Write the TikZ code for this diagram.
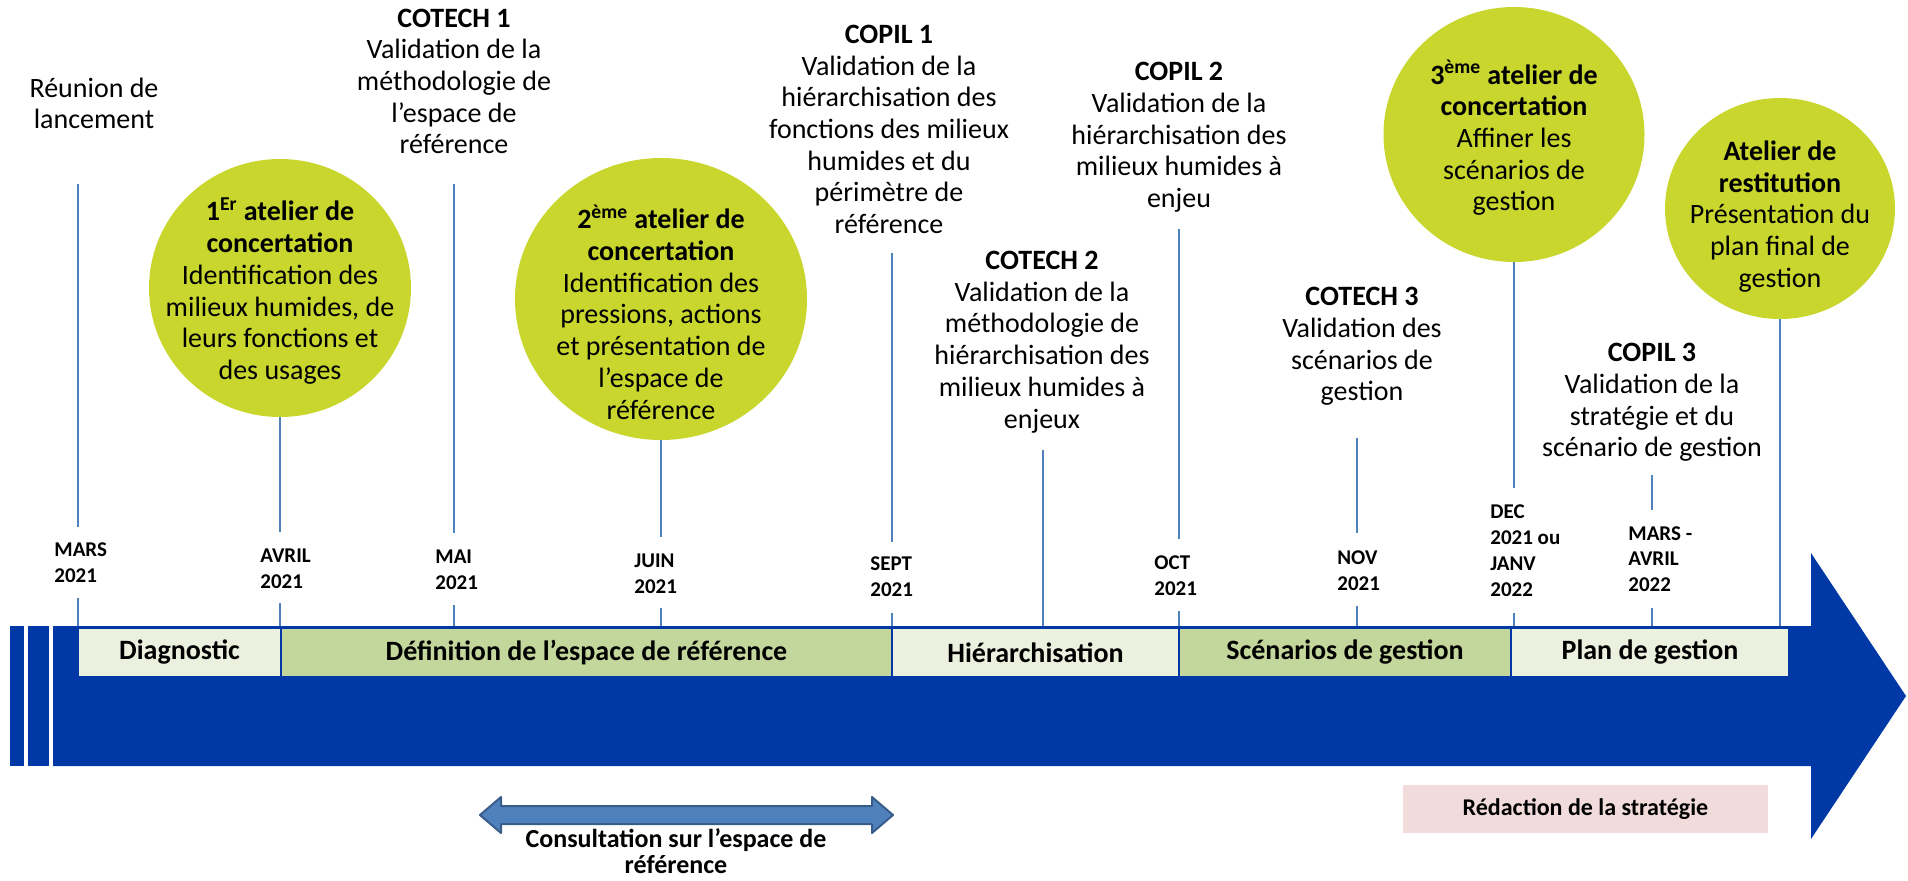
\documentclass[tikz,border=0pt]{standalone}
\usepackage{fontspec}
\setmainfont{Carlito}
\usetikzlibrary{shapes.geometric}
\definecolor{barblue}{RGB}{0,57,166}
\definecolor{tickblue}{RGB}{79,129,189}
\definecolor{bubblegreen}{RGB}{200,214,46}
\definecolor{phaselight}{RGB}{235,241,222}
\definecolor{phasedark}{RGB}{195,214,155}
\definecolor{pinkbox}{RGB}{242,220,219}
\definecolor{arrowfill}{RGB}{79,129,189}
\definecolor{arrowline}{RGB}{56,93,138}
\newcommand\fsmain{\fontsize{14pt}{15.85pt}\selectfont}
\newcommand\fsdate{\fontsize{10.5pt}{12.9pt}\selectfont\bfseries}
\newcommand\fsphase{\fontsize{14pt}{16pt}\selectfont\bfseries}
\newcommand\fsnote{\fontsize{13pt}{13pt}\selectfont\bfseries}
\newcommand\fsredac{\fontsize{12pt}{14pt}\selectfont\bfseries}
\begin{document}
\begin{tikzpicture}[x=0.5pt,y=-0.5pt,
  evt/.style={align=center,font=\fsmain,inner sep=0pt},
  datelbl/.style={align=left,anchor=west,font=\fsdate,inner sep=0pt},
  tick/.style={draw=tickblue,line width=1pt},
  bubble/.style={ellipse,fill=bubblegreen,draw=none,inner sep=0pt,outer sep=0pt},
  phasebox/.style={rectangle,draw=barblue,line width=1pt,font=\fsphase,inner sep=0pt,minimum height=24.5pt},
  notebox/.style={rectangle,fill=pinkbox,draw=none,font=\fsredac,inner sep=0pt}]
\useasboundingbox (0,0) rectangle (1908,880);

% big timeline arrow
\fill[barblue] (10,626) rectangle (24,766);
\fill[barblue] (28,626) rectangle (49,766);
\fill[barblue] (53,626) -- (1811,626) -- (1811,553) -- (1906,696) -- (1811,839) -- (1811,766) -- (53,766) -- cycle;

% phases
\node[phasebox,fill=phaselight,minimum width=203*0.5pt] (diag) at (179.5,652.5) {Diagnostic};
\node[phasebox,fill=phasedark,minimum width=611*0.5pt] (defi) at (586.5,652.5) {Définition de l’espace de référence};
\node[phasebox,fill=phaselight,minimum width=287*0.5pt] (hier) at (1035.5,652.5) {Hiérarchisation};
\node[phasebox,fill=phasedark,minimum width=332*0.5pt] (scen) at (1345,652.5) {Scénarios de gestion};
\node[phasebox,fill=phaselight,minimum width=278*0.5pt] (plan) at (1650,652.5) {Plan de gestion};

% bubbles
\node[bubble,minimum width=262*0.5pt,minimum height=258*0.5pt] (b1) at (280,288) {};
\node[bubble,minimum width=292*0.5pt,minimum height=282*0.5pt] (b2) at (661,299) {};
\node[bubble,minimum width=261*0.5pt,minimum height=255*0.5pt] (b3) at (1514,134.5) {};
\node[bubble,minimum width=230*0.5pt,minimum height=221*0.5pt] (b4) at (1780,208.5) {};

% event texts
\node[evt] (reunion) at (94,103.5) {Réunion de\\lancement};
\node[evt] (cotech1) at (454,81.5) {\textbf{COTECH 1}\\Validation de la\\méthodologie de\\l’espace de\\référence};
\node[evt] (b1t) at (280,291) {\textbf{1\textsuperscript{Er} atelier de}\\\textbf{concertation}\\Identification des\\milieux humides, de\\leurs fonctions et\\des usages};
\node[evt] (b2t) at (661,312) {\textbf{2\textsuperscript{ème} atelier de}\\\textbf{concertation}\\Identification des\\pressions, actions\\et présentation de\\l’espace de\\référence};
\node[evt] (copil1) at (889,129.5) {\textbf{COPIL 1}\\Validation de la\\hiérarchisation des\\fonctions des milieux\\humides et du\\périmètre de\\référence};
\node[evt] (cotech2) at (1042,342) {\textbf{COTECH 2}\\Validation de la\\méthodologie de\\hiérarchisation des\\milieux humides à\\enjeux};
\node[evt] (copil2) at (1179,137.5) {\textbf{COPIL 2}\\Validation de la\\hiérarchisation des\\milieux humides à\\enjeu};
\node[evt] (cotech3) at (1362,346.5) {\textbf{COTECH 3}\\Validation des\\scénarios de\\gestion};
\node[evt] (b3t) at (1514,138) {\textbf{3\textsuperscript{ème} atelier de}\\\textbf{concertation}\\Affiner les\\scénarios de\\gestion};
\node[evt] (b4t) at (1780,216.5) {\textbf{Atelier de}\\\textbf{restitution}\\Présentation du\\plan final de\\gestion};
\node[evt] (copil3) at (1652,402.5) {\textbf{COPIL 3}\\Validation de la\\stratégie et du\\scénario de gestion};

% date labels
\node[datelbl] (d1) at (54,563) {MARS\\2021};
\node[datelbl] (d2) at (260,568.5) {AVRIL\\2021};
\node[datelbl] (d3) at (435,570) {MAI\\2021};
\node[datelbl] (d4) at (634,573.5) {JUIN\\2021};
\node[datelbl] (d5) at (870,577) {SEPT\\2021};
\node[datelbl] (d6) at (1154,576) {OCT\\2021};
\node[datelbl] (d7) at (1337,570.5) {NOV\\2021};
\node[datelbl] (d8) at (1490,550.5) {DEC\\2021 ou\\JANV\\2022};
\node[datelbl] (d9) at (1628,559) {MARS -\\AVRIL\\2022};

% tick line end points
\coordinate (m1a) at (78,184);   \coordinate (m1b) at (78,527);
\coordinate (m1c) at (78,598);   \coordinate (m1d) at (78,626);
\coordinate (m2b) at (280,532);
\coordinate (m2c) at (280,603);  \coordinate (m2d) at (280,626);
\coordinate (m3a) at (454,184);  \coordinate (m3b) at (454,533);
\coordinate (m3c) at (454,605);  \coordinate (m3d) at (454,626);
\coordinate (m4b) at (661,537);
\coordinate (m4c) at (661,608);  \coordinate (m4d) at (661,626);
\coordinate (m5a) at (892,253);  \coordinate (m5b) at (892,542);
\coordinate (m5c) at (892,613);  \coordinate (m5d) at (892,626);
\coordinate (c2a) at (1043,450); \coordinate (c2b) at (1043,626);
\coordinate (m6a) at (1179,229); \coordinate (m6b) at (1179,539);
\coordinate (m6c) at (1179,611); \coordinate (m6d) at (1179,626);
\coordinate (m7a) at (1357,438); \coordinate (m7b) at (1357,533);
\coordinate (m7c) at (1357,606); \coordinate (m7d) at (1357,626);
\coordinate (m8b) at (1514,488);
\coordinate (m8c) at (1514,613); \coordinate (m8d) at (1514,626);
\coordinate (m9a) at (1652,475); \coordinate (m9b) at (1652,510);
\coordinate (m9c) at (1652,608); \coordinate (m9d) at (1652,626);
\coordinate (r4b) at (1780,626);

\draw[tick] (m1a) -- (m1b); \draw[tick] (m1c) -- (m1d);
\draw[tick] (b1.south) -- (m2b); \draw[tick] (m2c) -- (m2d);
\draw[tick] (m3a) -- (m3b); \draw[tick] (m3c) -- (m3d);
\draw[tick] (b2.south) -- (m4b); \draw[tick] (m4c) -- (m4d);
\draw[tick] (m5a) -- (m5b); \draw[tick] (m5c) -- (m5d);
\draw[tick] (c2a) -- (c2b);
\draw[tick] (m6a) -- (m6b); \draw[tick] (m6c) -- (m6d);
\draw[tick] (m7a) -- (m7b); \draw[tick] (m7c) -- (m7d);
\draw[tick] (b3.south) -- (m8b); \draw[tick] (m8c) -- (m8d);
\draw[tick] (m9a) -- (m9b); \draw[tick] (m9c) -- (m9d);
\draw[tick] (b4.south) -- (r4b);

% consultation double arrow
\draw[fill=arrowfill,draw=arrowline,line width=1pt,line join=round]
  (480,815) -- (501,797) -- (501,806) -- (872,806) -- (872,797) -- (893,815)
  -- (872,833) -- (872,824) -- (501,824) -- (501,833) -- cycle;
\node[align=center,font=\fsnote,inner sep=0pt] (consult) at (676,851) {Consultation sur l’espace de\\référence};

% redaction box
\node[notebox,minimum width=365*0.5pt,minimum height=48*0.5pt] (redac) at (1585.5,809) {Rédaction de la stratégie};
\end{tikzpicture}
\end{document}
